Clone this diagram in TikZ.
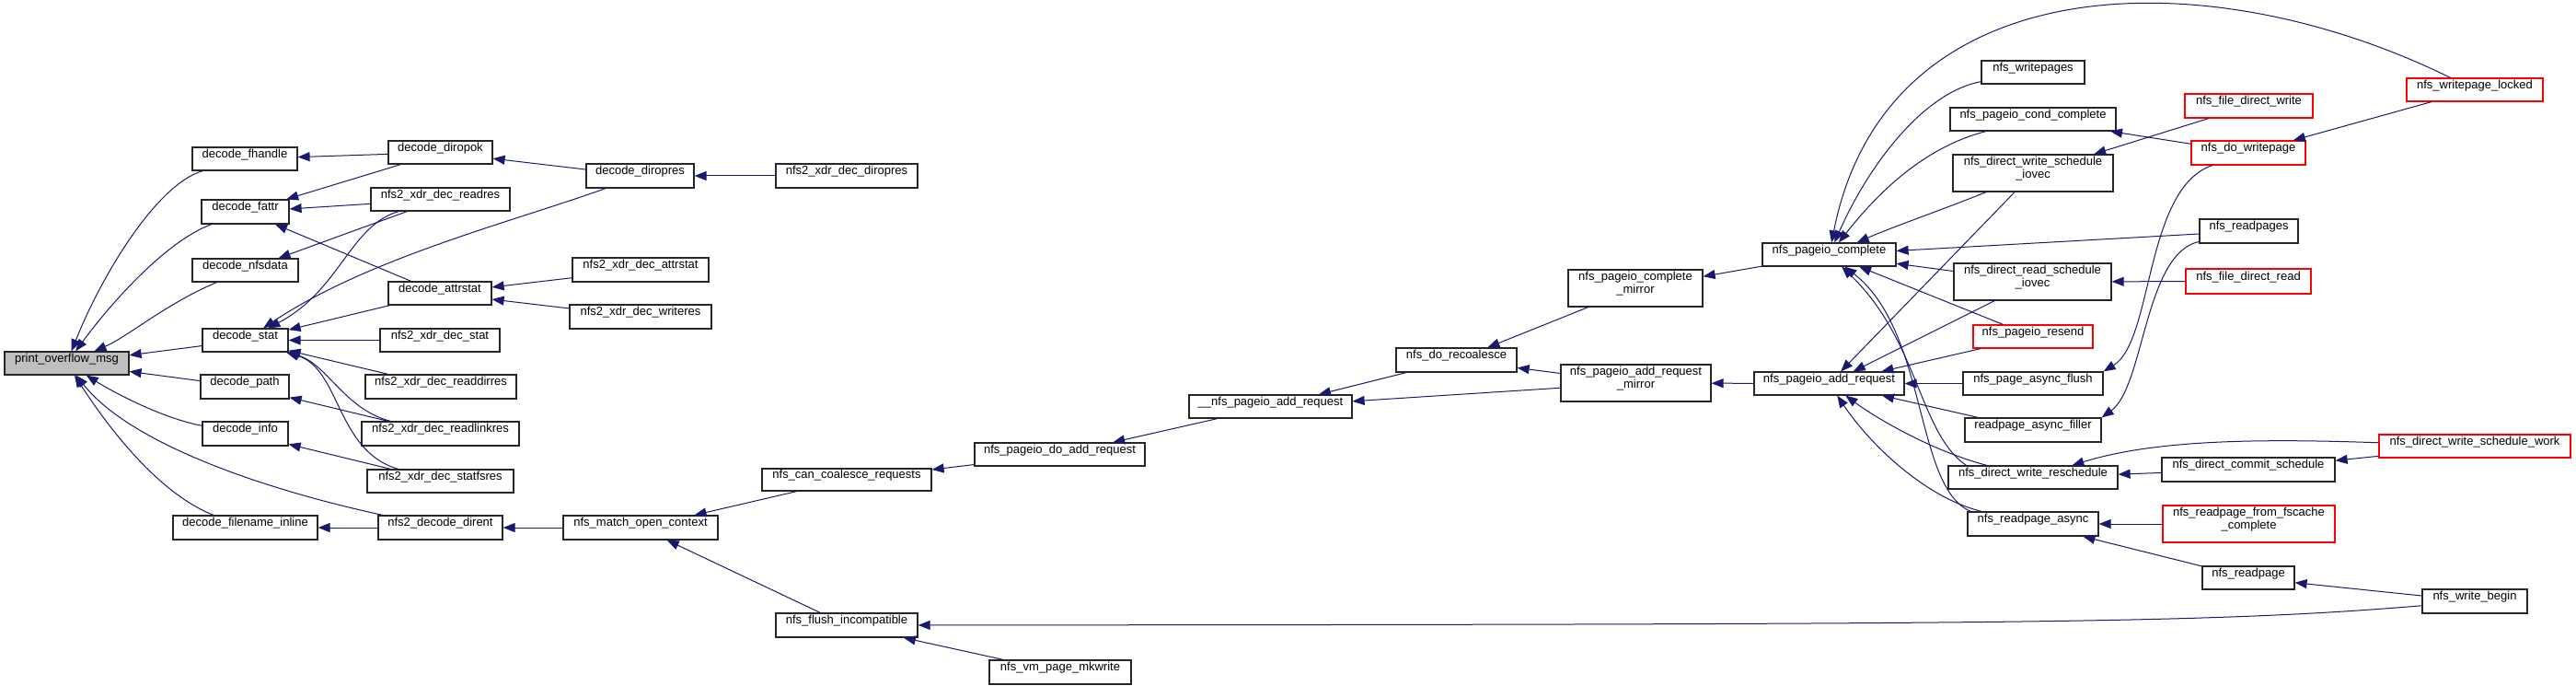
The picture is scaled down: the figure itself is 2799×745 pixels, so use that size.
\documentclass[tikz,border=0pt]{standalone}
\usepackage{fontspec}
\setmainfont{Liberation Sans}
\usetikzlibrary{fit,calc,arrows.meta}
\definecolor{navyb}{HTML}{191970}
\tikzset{
  box/.style={draw=black!85, line width=0.9pt, fill=white, inner sep=0pt, align=center,
    font=\fontsize{9.75}{10.5}\selectfont},
  redbox/.style={box, draw=red},
  rootbox/.style={box, fill=black!25},
  e/.style={draw=navyb, line width=0.75pt, -{Triangle[length=9.75pt,width=7.5pt]}}
}
\begin{document}
\begin{tikzpicture}[x=0.75pt,y=-0.75pt]
\useasboundingbox (0,0) rectangle (2799,745);
\fill[white] (0,0) rectangle (2799,745);
% ---- column 0/1
\node[rootbox, fit={(5,382)(140,407)}] (pom) {print\_overflow\_msg};
\node[box, fit={(209,160)(323,185)}] (fhandle) {decode\_fhandle};
\node[box, fit={(219,217)(314,243)}] (fattr) {decode\_fattr};
\node[box, fit={(209,281)(324,306)}] (nfsdata) {decode\_nfsdata};
\node[box, fit={(220,357)(313,382)}] (dstat) {decode\_stat};
\node[box, fit={(218,407)(314,433)}] (dpath) {decode\_path};
\node[box, fit={(220,458)(313,484)}] (dinfo) {decode\_info};
\node[box, fit={(188,560)(345,586)}] (dfni) {decode\_filename\_inline};
% ---- column 2
\node[box, fit={(422,153)(535,178)}] (diropok) {decode\_diropok};
\node[box, fit={(403,204)(554,229)}] (readres) {nfs2\_xdr\_dec\_readres};
\node[box, fit={(422,306)(534,331)}] (attrstat) {decode\_attrstat};
\node[box, fit={(413,357)(543,382)}] (xstat) {nfs2\_xdr\_dec\_stat};
\node[box, fit={(397,407)(561,433)}] (readdirres) {nfs2\_xdr\_dec\_readdirres};
\node[box, fit={(393,458)(564,484)}] (readlinkres) {nfs2\_xdr\_dec\_readlinkres};
\node[box, fit={(399,510)(558,535)}] (statfsres) {nfs2\_xdr\_dec\_statfsres};
\node[box, fit={(411,560)(546,586)}] (dirent) {nfs2\_decode\_dirent};
% ---- column 3/4
\node[box, fit={(637,178)(754,204)}] (diropres) {decode\_diropres};
\node[box, fit={(843,178)(997,204)}] (xdiropres) {nfs2\_xdr\_dec\_diropres};
\node[box, fit={(622,280)(770,306)}] (xattrstat) {nfs2\_xdr\_dec\_attrstat};
\node[box, fit={(619,331)(773,357)}] (writeres) {nfs2\_xdr\_dec\_writeres};
\node[box, fit={(612,560)(780,586)}] (matchctx) {nfs\_match\_open\_context};
\node[box, fit={(828,509)(1012,533)}] (coalesce) {nfs\_can\_coalesce\_requests};
\node[box, fit={(843,666)(997,692)}] (flushinc) {nfs\_flush\_incompatible};
% ---- middle
\node[box, fit={(1059,481)(1244,506)}] (doadd) {nfs\_pageio\_do\_add\_request};
\node[box, fit={(1075,717)(1229,743)}] (mkwrite) {nfs\_vm\_page\_mkwrite};
\node[box, fit={(1292,429)(1469,454)}] (addreqU) {\_\_nfs\_pageio\_add\_request};
\node[box, fit={(1517,378)(1648,404)}] (recoal) {nfs\_do\_recoalesce};
\node[box, fit={(1704,293)(1850,333)}] (cmirror) {nfs\_pageio\_complete\\\_mirror};
\node[box, fit={(1696,396)(1859,436)}] (amirror) {nfs\_pageio\_add\_request\\\_mirror};
\node[box, fit={(1915,264)(2060,289)}] (pcomplete) {nfs\_pageio\_complete};
\node[box, fit={(1906,404)(2069,429)}] (paddreq) {nfs\_pageio\_add\_request};
% ---- right columns
\node[box, fit={(2153,66)(2265,91)}] (writepages) {nfs\_writepages};
\node[box, fit={(2119,117)(2299,142)}] (condcomplete) {nfs\_pageio\_cond\_complete};
\node[box, fit={(2122,168)(2296,208)}] (wiovec) {nfs\_direct\_write\_schedule\\\_iovec};
\node[box, fit={(2123,286)(2294,326)}] (riovec) {nfs\_direct\_read\_schedule\\\_iovec};
\node[redbox, fit={(2144,353)(2274,378)}] (resend) {nfs\_pageio\_resend};
\node[box, fit={(2133,404)(2285,429)}] (asyncflush) {nfs\_page\_async\_flush};
\node[box, fit={(2135,454)(2283,480)}] (filler) {readpage\_async\_filler};
\node[box, fit={(2117,506)(2301,531)}] (wresched) {nfs\_direct\_write\_reschedule};
\node[box, fit={(2138,556)(2280,582)}] (rpasync) {nfs\_readpage\_async};
\node[redbox, fit={(2615,85)(2763,110)}] (wplocked) {nfs\_writepage\_locked};
\node[redbox, fit={(2374,102)(2513,128)}] (fdwrite) {nfs\_file\_direct\_write};
\node[redbox, fit={(2381,153)(2505,179)}] (dowritepage) {nfs\_do\_writepage};
\node[box, fit={(2390,238)(2497,264)}] (readpages) {nfs\_readpages};
\node[redbox, fit={(2375,292)(2511,319)}] (fdread) {nfs\_file\_direct\_read};
\node[redbox, fit={(2585,472)(2793,497)}] (wswork) {nfs\_direct\_write\_schedule\_work};
\node[box, fit={(2349,497)(2537,523)}] (commitsched) {nfs\_direct\_commit\_schedule};
\node[redbox, fit={(2350,549)(2537,589)}] (fscache) {nfs\_readpage\_from\_fscache\\\_complete};
\node[box, fit={(2393,615)(2493,640)}] (readpage) {nfs\_readpage};
\node[box, fit={(2632,640)(2746,666)}] (writebegin) {nfs\_write\_begin};
% ---- edges, left part
\draw[e] (fhandle) .. controls (170,200) and (110,300) .. (pom);
\draw[e] (fattr) .. controls (180,262) and (120,330) .. (pom);
\draw[e] (nfsdata) .. controls (180,330) and (140,365) .. (pom);
\draw[e] (dstat) -- (pom);
\draw[e] (dpath) -- (pom);
\draw[e] (dinfo) .. controls (180,455) and (130,430) .. (pom);
\draw[e] (dirent) .. controls (280,530) and (140,480) .. (pom);
\draw[e] (dfni) .. controls (170,535) and (115,460) .. (pom);
\draw[e] (diropok) -- (fhandle);
\draw[e] (diropok) -- (fattr);
\draw[e] (readres) -- (fattr);
\draw[e] (attrstat) -- (fattr);
\draw[e] (readres) -- (nfsdata);
\draw[e] (readres) .. controls (380,245) and (370,315) .. (dstat);
\draw[e] (diropres) .. controls (560,240) and (400,280) .. (dstat);
\draw[e] (attrstat) -- (dstat);
\draw[e] (xstat) -- (dstat);
\draw[e] (readdirres) -- (dstat);
\draw[e] (readlinkres) .. controls (375,445) and (355,395) .. (dstat);
\draw[e] (statfsres) .. controls (365,490) and (370,400) .. (dstat);
\draw[e] (readlinkres) -- (dpath);
\draw[e] (statfsres) -- (dinfo);
\draw[e] (dirent) -- (dfni);
\draw[e] (diropres) -- (diropok);
\draw[e] (xdiropres) -- (diropres);
\draw[e] (xattrstat) -- (attrstat);
\draw[e] (writeres) -- (attrstat);
\draw[e] (matchctx) -- (dirent);
\draw[e] (coalesce) -- (matchctx);
\draw[e] (flushinc) -- (matchctx);
\draw[e] (doadd) -- (coalesce);
\draw[e] (addreqU) -- (doadd);
\draw[e] (recoal) -- (addreqU);
\draw[e] (amirror) -- (addreqU);
\draw[e] (amirror) -- (recoal);
\draw[e] (cmirror) -- (recoal);
\draw[e] (pcomplete) -- (cmirror);
\draw[e] (paddreq) -- (amirror);
\draw[e] (writebegin) .. controls (2400,677) and (2200,678) .. (flushinc);
\draw[e] (mkwrite) -- (flushinc);
% ---- edges, right part
\draw[e] (wplocked) .. controls (2400,-45) and (2050,-40) .. (pcomplete);
\draw[e] (writepages) .. controls (2090,100) and (2030,180) .. (pcomplete);
\draw[e] (condcomplete) .. controls (2090,160) and (2040,210) .. (pcomplete);
\draw[e] (wiovec) .. controls (2110,228) and (2060,245) .. (pcomplete);
\draw[e] (readpages) -- (pcomplete);
\draw[e] (riovec) -- (pcomplete);
\draw[e] (resend) -- (pcomplete);
\draw[e] ($(wresched.north west)+(20,0)$) .. controls (2085,470) and (2085,370) .. (pcomplete);
\draw[e] ($(rpasync.north west)+(4,0)$) .. controls (2080,530) and (2095,360) .. (pcomplete);
\draw[e] (wiovec) -- (paddreq);
\draw[e] (riovec) -- (paddreq);
\draw[e] (resend) -- (paddreq);
\draw[e] (asyncflush) -- (paddreq);
\draw[e] (filler) -- (paddreq);
\draw[e] (wresched) .. controls (2100,490) and (2040,455) .. (paddreq);
\draw[e] (rpasync) .. controls (2090,540) and (2030,480) .. (paddreq);
\draw[e] (dowritepage) -- (condcomplete);
\draw[e] (fdwrite) -- (wiovec);
\draw[e] (wplocked) -- (dowritepage);
\draw[e] (dowritepage) .. controls (2330,205) and (2340,370) .. (asyncflush.north east);
\draw[e] (readpages) .. controls (2330,275) and (2330,420) .. (filler.north east);
\draw[e] (fdread) -- (riovec);
\draw[e] (commitsched) -- (wresched);
\draw[e] (wswork) .. controls (2450,476) and (2340,478) .. (wresched);
\draw[e] (wswork) -- (commitsched);
\draw[e] (fscache) -- (rpasync);
\draw[e] (readpage) -- (rpasync);
\draw[e] (writebegin) -- (readpage);
\end{tikzpicture}
\end{document}
